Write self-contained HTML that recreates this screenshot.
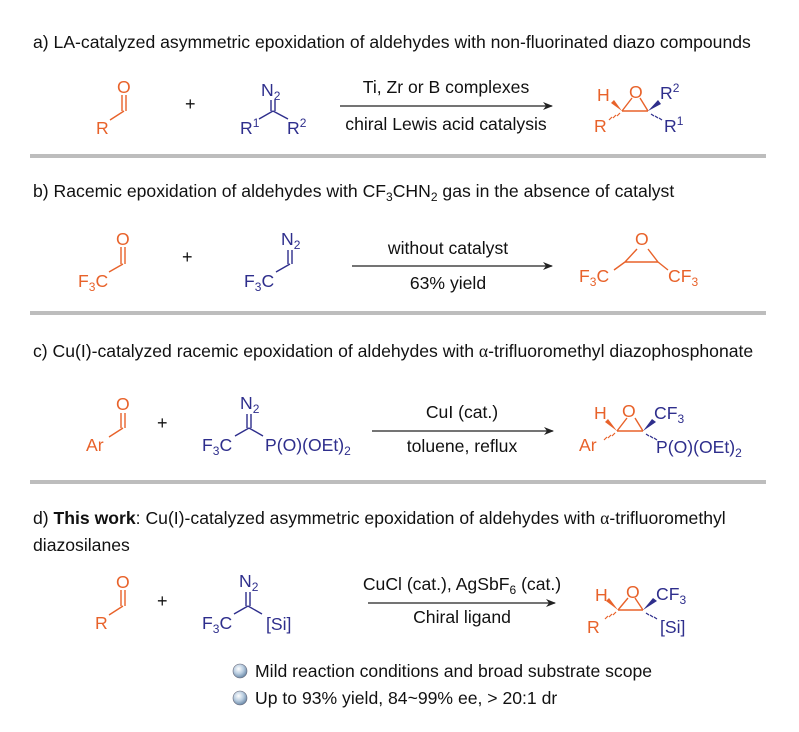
<!DOCTYPE html>
<html><head><meta charset="utf-8"><style>
html,body{margin:0;padding:0;background:#fff;}
svg{display:block;font-family:"Liberation Sans",sans-serif;}
.o{fill:#e8622a;} .b{fill:#2e2e8c;} .k{fill:#111;}
</style></head><body>
<svg width="799" height="732" viewBox="0 0 799 732" font-size="17.6">
<defs>
<marker id="ah" markerWidth="10" markerHeight="8" refX="9" refY="4" orient="auto" markerUnits="userSpaceOnUse"><path d="M0,0 L10,4 L0,8 L3,4z" fill="#222"/></marker>
</defs>
<rect x="30" y="154" width="736" height="4" fill="#bdbdbd"/>
<rect x="30" y="311" width="736" height="4" fill="#bdbdbd"/>
<rect x="30" y="480" width="736" height="4" fill="#bdbdbd"/>

<!-- a -->
<text x="33" y="48" class="k">a) LA-catalyzed asymmetric epoxidation of aldehydes with non-fluorinated diazo compounds</text>
<g stroke="#e8622a" stroke-width="1.4" fill="none"><path d="M122,95V111M126,95V111M124,111L110,120"/></g>
<text x="117" y="93" class="o">O</text><text x="96" y="134" class="o">R</text>
<text x="185" y="110" class="k" font-size="18">+</text>
<text x="261" y="96" class="b">N<tspan font-size="12" dy="4">2</tspan></text>
<g stroke="#2e2e8c" stroke-width="1.4" fill="none"><path d="M271,100V111M275,100V111M273,111L259,119M273,111L288,119"/></g>
<text x="240" y="134" class="b">R<tspan font-size="12" dy="-7">1</tspan></text>
<text x="287" y="134" class="b">R<tspan font-size="12" dy="-7">2</tspan></text>
<line x1="340" y1="106" x2="552" y2="106" stroke="#222" stroke-width="1.2" marker-end="url(#ah)"/>
<text x="446" y="93" class="k" text-anchor="middle">Ti, Zr or B complexes</text>
<text x="446" y="130" class="k" text-anchor="middle">chiral Lewis acid catalysis</text>
<text x="597" y="101" class="o">H</text><text x="629" y="98" class="o">O</text>
<path d="M622,111L648,111M622,111L632,98M648,111L640,98" stroke="#e8622a" stroke-width="1.4" fill="none"/>
<path d="M622,111L611,103L614,100z" fill="#e8622a"/>
<path d="M648,111L658,100L661,104z" fill="#2e2e8c"/>
<path d="M620,113l-3,3M616,115l-3,3M612,117l-3,3" stroke="#e8622a" stroke-width="1.2"/>
<path d="M651,114l3,2M655,116l3,2M659,118l3,2" stroke="#2e2e8c" stroke-width="1.2"/>
<text x="660" y="99" class="b">R<tspan font-size="12" dy="-7">2</tspan></text>
<text x="594" y="132" class="o">R</text>
<text x="664" y="132" class="b">R<tspan font-size="12" dy="-7">1</tspan></text>

<!-- b -->
<text x="33" y="197" class="k">b) Racemic epoxidation of aldehydes with CF<tspan font-size="12" dy="4">3</tspan><tspan dy="-4">CHN</tspan><tspan font-size="12" dy="4">2</tspan><tspan dy="-4"> gas in the absence of catalyst</tspan></text>
<g stroke="#e8622a" stroke-width="1.4" fill="none"><path d="M121,247V264M125,247V264M123,264L109,272"/></g>
<text x="116" y="245" class="o">O</text>
<text x="78" y="287" class="o">F<tspan font-size="12" dy="4">3</tspan><tspan dy="-4">C</tspan></text>
<text x="182" y="263" class="k" font-size="18">+</text>
<text x="281" y="245" class="b">N<tspan font-size="12" dy="4">2</tspan></text>
<g stroke="#2e2e8c" stroke-width="1.4" fill="none"><path d="M288,250V264M292,250V264M290,264L276,272"/></g>
<text x="244" y="287" class="b">F<tspan font-size="12" dy="4">3</tspan><tspan dy="-4">C</tspan></text>
<line x1="352" y1="266" x2="552" y2="266" stroke="#222" stroke-width="1.2" marker-end="url(#ah)"/>
<text x="448" y="254" class="k" text-anchor="middle">without catalyst</text>
<text x="448" y="289" class="k" text-anchor="middle">63% yield</text>
<text x="635" y="245" class="o">O</text>
<path d="M625,262L658,262M625,262L637,249M658,262L648,249" stroke="#e8622a" stroke-width="1.4" fill="none"/>
<path d="M625,262L614,270M658,262L668,270" stroke="#e8622a" stroke-width="1.4"/>
<text x="579" y="282" class="o">F<tspan font-size="12" dy="4">3</tspan><tspan dy="-4">C</tspan></text>
<text x="668" y="282" class="o">CF<tspan font-size="12" dy="4">3</tspan></text>

<!-- c -->
<text x="33" y="357" class="k">c) Cu(I)-catalyzed racemic epoxidation of aldehydes with <tspan font-family="Liberation Serif">α</tspan>-trifluoromethyl diazophosphonate</text>
<g stroke="#e8622a" stroke-width="1.4" fill="none"><path d="M121,413V428M125,413V428M123,428L109,437"/></g>
<text x="116" y="410" class="o">O</text><text x="86" y="451" class="o">Ar</text>
<text x="157" y="429" class="k" font-size="18">+</text>
<text x="240" y="409" class="b">N<tspan font-size="12" dy="4">2</tspan></text>
<g stroke="#2e2e8c" stroke-width="1.4" fill="none"><path d="M247,414V428M251,414V428M249,428L235,436M249,428L263,436"/></g>
<text x="202" y="451" class="b">F<tspan font-size="12" dy="4">3</tspan><tspan dy="-4">C</tspan></text>
<text x="265" y="451" class="b">P(O)(OEt)<tspan font-size="12" dy="4">2</tspan></text>
<line x1="372" y1="431" x2="553" y2="431" stroke="#222" stroke-width="1.2" marker-end="url(#ah)"/>
<text x="462" y="418" class="k" text-anchor="middle">CuI (cat.)</text>
<text x="462" y="452" class="k" text-anchor="middle">toluene, reflux</text>
<text x="594" y="419" class="o">H</text><text x="622" y="417" class="o">O</text>
<path d="M617,431L643,431M617,431L627,418M643,431L635,418" stroke="#e8622a" stroke-width="1.4" fill="none"/>
<path d="M617,431L605,422L608,419z" fill="#e8622a"/>
<path d="M643,431L652,419L656,422z" fill="#2e2e8c"/>
<path d="M615,433l-3,3M611,435l-3,3M607,437l-3,3" stroke="#e8622a" stroke-width="1.2"/>
<path d="M646,434l3,2M650,436l3,2M654,438l3,2" stroke="#2e2e8c" stroke-width="1.2"/>
<text x="654" y="419" class="b">CF<tspan font-size="12" dy="4">3</tspan></text>
<text x="579" y="451" class="o">Ar</text>
<text x="656" y="453" class="b">P(O)(OEt)<tspan font-size="12" dy="4">2</tspan></text>

<!-- d -->
<text x="33" y="524" class="k">d) <tspan font-weight="bold">This work</tspan>: Cu(I)-catalyzed asymmetric epoxidation of aldehydes with <tspan font-family="Liberation Serif">α</tspan>-trifluoromethyl</text>
<text x="33" y="551" class="k">diazosilanes</text>
<g stroke="#e8622a" stroke-width="1.4" fill="none"><path d="M121,590V606M125,590V606M123,606L109,615"/></g>
<text x="116" y="588" class="o">O</text><text x="95" y="629" class="o">R</text>
<text x="157" y="607" class="k" font-size="18">+</text>
<text x="239" y="587" class="b">N<tspan font-size="12" dy="4">2</tspan></text>
<g stroke="#2e2e8c" stroke-width="1.4" fill="none"><path d="M246,592V606M250,592V606M248,606L234,614M248,606L262,614"/></g>
<text x="202" y="629" class="b">F<tspan font-size="12" dy="4">3</tspan><tspan dy="-4">C</tspan></text>
<text x="266" y="630" class="b">[Si]</text>
<line x1="368" y1="603" x2="555" y2="603" stroke="#222" stroke-width="1.2" marker-end="url(#ah)"/>
<text x="462" y="590" class="k" text-anchor="middle">CuCl (cat.), AgSbF<tspan font-size="12" dy="4">6</tspan><tspan dy="-4"> (cat.)</tspan></text>
<text x="462" y="623" class="k" text-anchor="middle">Chiral ligand</text>
<text x="595" y="601" class="o">H</text><text x="626" y="598" class="o">O</text>
<path d="M618,610L643,610M618,610L628,598M643,610L635,598" stroke="#e8622a" stroke-width="1.4" fill="none"/>
<path d="M618,610L606,601L609,598z" fill="#e8622a"/>
<path d="M643,610L653,598L657,601z" fill="#2e2e8c"/>
<path d="M616,612l-3,3M612,614l-3,3M608,616l-3,3" stroke="#e8622a" stroke-width="1.2"/>
<path d="M646,613l3,2M650,615l3,2M654,617l3,2" stroke="#2e2e8c" stroke-width="1.2"/>
<text x="656" y="600" class="b">CF<tspan font-size="12" dy="4">3</tspan></text>
<text x="587" y="633" class="o">R</text>
<text x="660" y="633" class="b">[Si]</text>

<defs><radialGradient id="bg" cx="0.4" cy="0.35" r="0.7"><stop offset="0" stop-color="#fff"/><stop offset="0.5" stop-color="#b9cde0"/><stop offset="1" stop-color="#5f7f9f"/></radialGradient></defs>
<circle cx="240" cy="671" r="7" fill="url(#bg)" stroke="#667" stroke-width="0.6"/>
<circle cx="240" cy="698" r="7" fill="url(#bg)" stroke="#667" stroke-width="0.6"/>
<text x="255" y="677" class="k">Mild reaction conditions and broad substrate scope</text>
<text x="255" y="704" class="k">Up to 93% yield, 84~99% ee, &gt; 20:1 dr</text>
</svg>
</body></html>
